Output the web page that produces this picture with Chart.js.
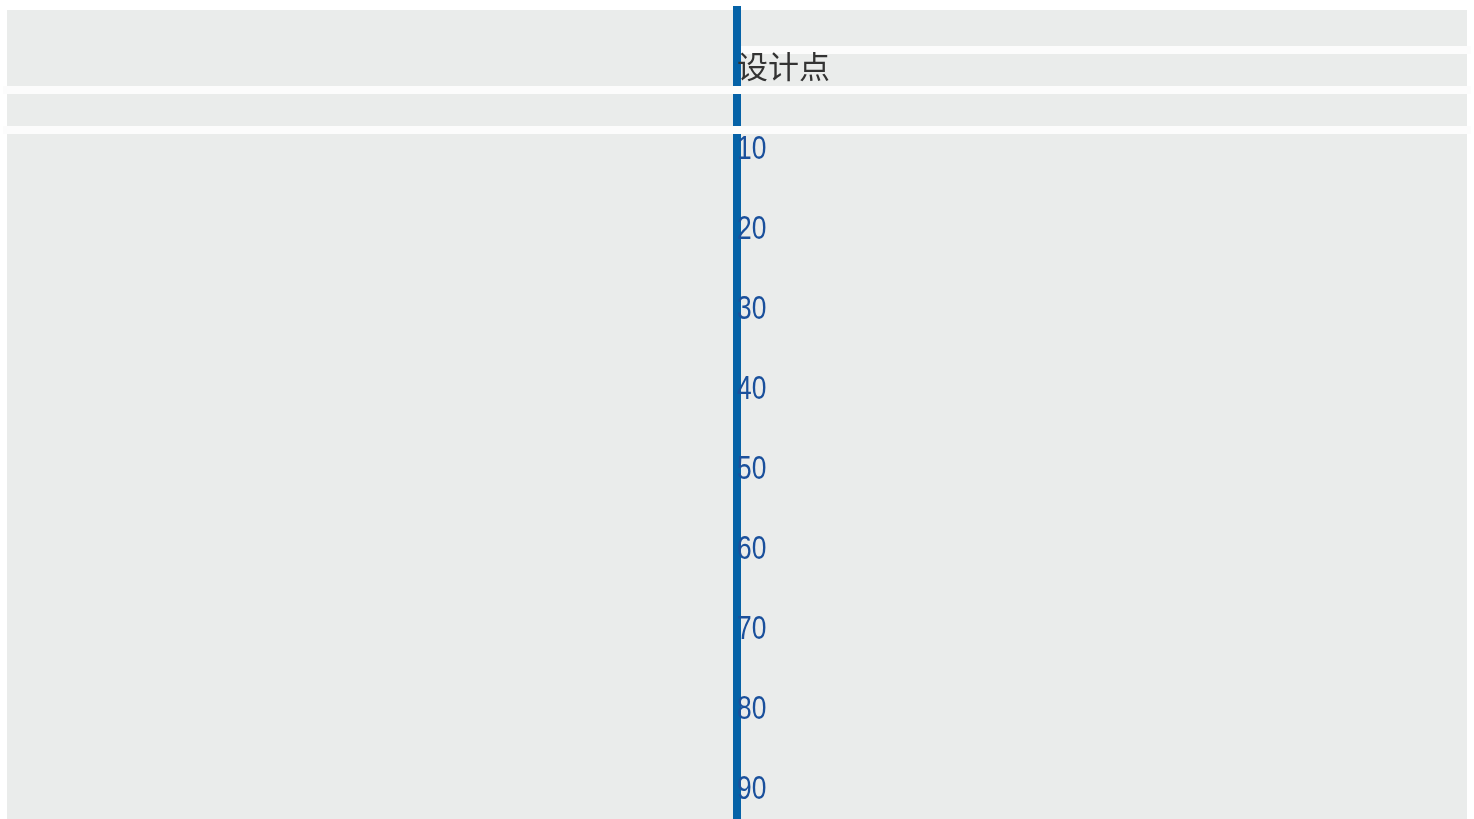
<!DOCTYPE html>
<html>
<head>
<meta charset="utf-8">
<script src="https://cdn.jsdelivr.net/npm/chart.js@4/dist/chart.umd.min.js"></script>
<style>
  html, body { margin: 0; padding: 0; background: #ffffff; }
  #wrap { width: 1474px; height: 819px; position: relative; }
</style>
</head>
<body>
<div id="wrap"><canvas id="myChart"></canvas></div>
<script>
// valeurs de l'axe (0 = point de conception)
const tickValues = [0, 10, 20, 30, 40, 50, 60, 70, 80, 90];
const tickLabels = ["设计点", "10", "20", "30", "40", "50", "60", "70", "80", "90"];
const axisMin = -7.125; // haut de l'axe
const axisMax = 94;     // bas de la fenêtre

// fond gris + bandes blanches + étiquettes de l'axe
const fondPlugin = {
  id: "fond",
  beforeDraw(chart) {
    const ctx = chart.ctx;
    ctx.save();
    ctx.fillStyle = "#eaeceb";
    ctx.fillRect(7, 10, 1460, chart.height - 10);
    ctx.fillStyle = "#fcfcfc";
    ctx.fillRect(741, 46, 730, 8);
    ctx.restore();
  },
  afterDatasetsDraw(chart) {
    const ctx = chart.ctx;
    const s = chart.scales.y;
    ctx.save();
    // ces bandes coupent le trait bleu
    ctx.fillStyle = "#fcfcfc";
    ctx.fillRect(3, 86, 1468, 8);
    ctx.fillRect(3, 126, 1468, 8);
    ctx.restore();

    // étiquettes à droite du trait
    tickValues.forEach((v, i) => {
      const y = s.getPixelForValue(v);
      ctx.save();
      if (i === 0) {
        ctx.font = "31px 'Noto Sans CJK SC'";
        ctx.fillStyle = "#333333";
        ctx.textBaseline = "middle";
        ctx.fillText(tickLabels[i], s.right, y - 1);
      } else {
        ctx.translate(s.right, y);
        ctx.scale(0.8, 1); // chiffres étroits
        ctx.font = "33px 'Liberation Sans'";
        ctx.fillStyle = "#1a509c";
        ctx.textBaseline = "alphabetic";
        ctx.fillText(tickLabels[i], 0, 12);
      }
      ctx.restore();
    });
  }
};

const config = {
  type: "line",
  data: { datasets: [] },
  options: {
    responsive: true,
    maintainAspectRatio: false,
    animation: false,
    layout: {
      autoPadding: false,
      padding: { left: 734, top: 10, right: 0, bottom: 0 }
    },
    plugins: { legend: { display: false }, tooltip: { enabled: false } },
    scales: {
      x: { type: "linear", display: false, min: 0, max: 1 },
      y: {
        type: "linear",
        position: "left",
        reverse: true,
        min: axisMin,
        max: axisMax,
        grid: { display: false, drawTicks: false },
        border: { display: true, color: "#0562a7", width: 8 },
        ticks: { display: false },
        afterFit(scale) {
          scale.width = 3;
          scale.paddingTop = 0;
          scale.paddingBottom = 0;
        }
      }
    }
  },
  plugins: [fondPlugin]
};

let chart = new Chart(document.getElementById("myChart").getContext("2d"), config);
</script>
</body>
</html>
